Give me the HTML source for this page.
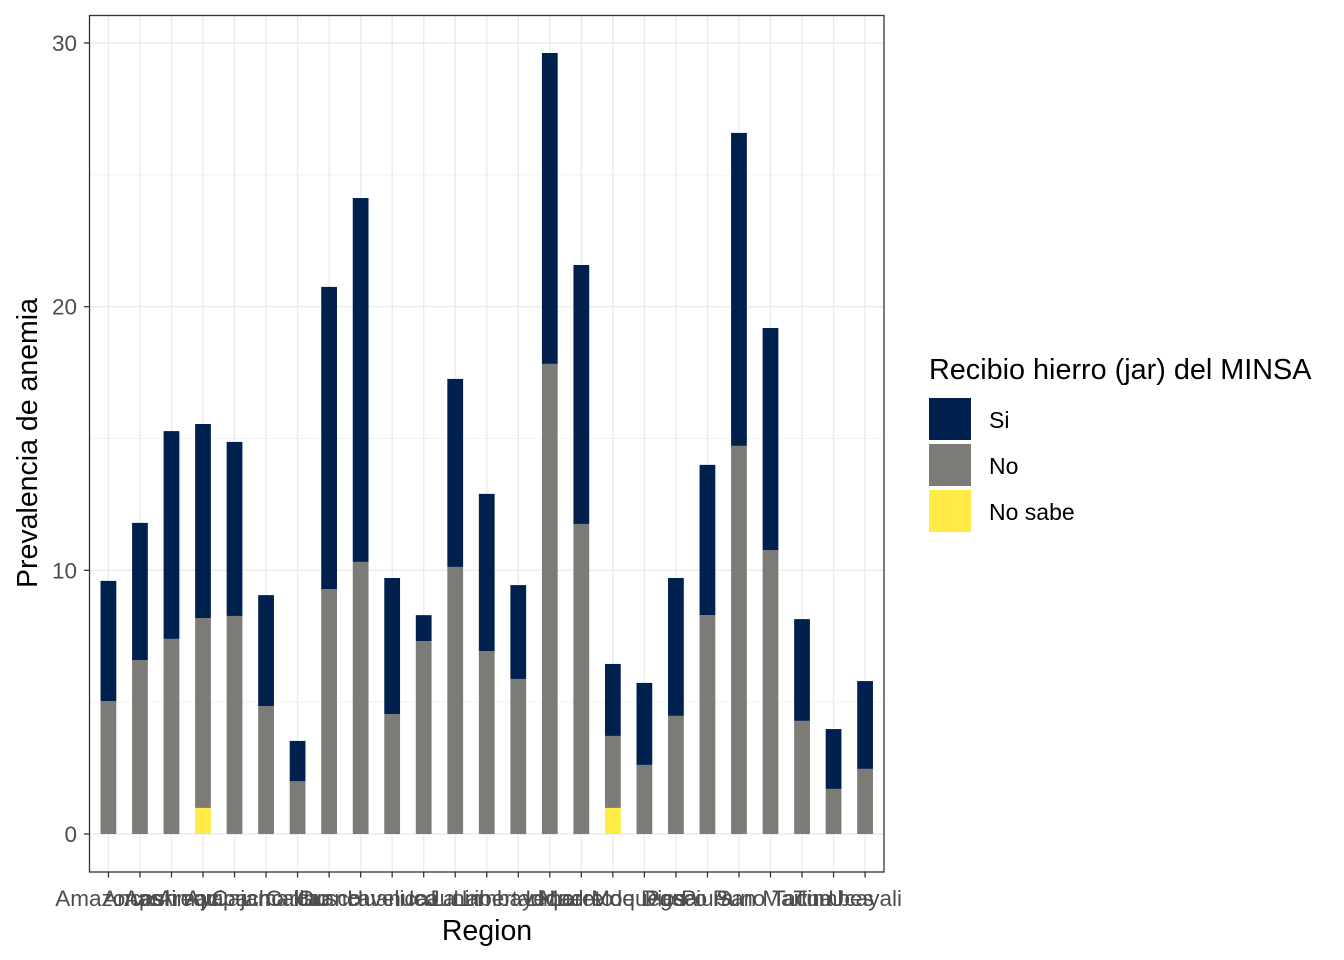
<!DOCTYPE html>
<html><head><meta charset="utf-8"><style>
body{margin:0;background:#fff;}
svg{display:block;font-family:"Liberation Sans",Arial,sans-serif;}
</style></head><body>
<svg id="chart" width="1344" height="960" xmlns="http://www.w3.org/2000/svg">
<rect width="1344" height="960" fill="#fff"/>
<g id="grid"></g>
<g id="bars"></g>
<rect x="89.5" y="15.5" width="794.5" height="856.5" fill="none" stroke="#333" stroke-width="1.3"/>
<g id="axes"></g>
<text x="487" y="940" font-size="28.5" text-anchor="middle" fill="#000">Region</text>
<text transform="translate(37,443) rotate(-90)" font-size="28.5" text-anchor="middle" fill="#000">Prevalencia de anemia</text>
<g>
<text x="929" y="379" font-size="28.8" fill="#000">Recibio hierro (jar) del MINSA</text>
<rect x="929" y="398" width="42" height="42" fill="#00204D"/>
<text x="989" y="428" font-size="23" fill="#000">Si</text>
<rect x="929" y="444" width="42" height="42" fill="#7C7B78"/>
<text x="989" y="474" font-size="23" fill="#000">No</text>
<rect x="929" y="490" width="42" height="42" fill="#FFEA46"/>
<text x="989" y="520" font-size="23" fill="#000">No sabe</text>
</g>
</svg>
<script>
const categories=["Amazonas","Ancash","Apurimac","Arequipa","Ayacucho","Cajamarca","Callao","Cusco","Huancavelica","Huanuco","Ica","Junin","La Libertad","Lambayeque","Lima","Loreto","Madre de Dios","Moquegua","Pasco","Piura","Puno","San Martin","Tacna","Tumbes","Ucayali"];
const noSabe=[0,0,0,0.99,0,0,0,0,0,0,0,0,0,0,0,0,0.99,0,0,0,0,0,0,0,0];
const no=[5.04,6.6,7.4,7.2,8.27,4.85,2.0,9.29,10.32,4.55,7.32,10.13,6.94,5.88,17.83,11.76,2.73,2.62,4.48,8.3,14.72,10.77,4.29,1.71,2.47];
const si=[4.56,5.2,7.88,7.36,6.6,4.21,1.53,11.46,13.8,5.16,0.98,7.13,5.96,3.56,11.79,9.82,2.73,3.11,5.23,5.7,11.87,8.42,3.86,2.27,3.33];
const yTicks=[0,10,20,30];
const yMinor=[5,15,25];
const NS="http://www.w3.org/2000/svg";
const px0=89.5,px1=884,py0=834,yScale=(834-43)/30;
const step=(px1-px0)/(categories.length+0.2);
const xS=i=>px0+step*(0.6+i);
const yS=v=>py0-v*yScale;
function mk(p,t,a){const e=document.createElementNS(NS,t);for(const k in a)e.setAttribute(k,a[k]);p.appendChild(e);return e;}
const grid=document.getElementById('grid'),bars=document.getElementById('bars'),axes=document.getElementById('axes');
yMinor.forEach(v=>{const l=mk(grid,'line',{x1:px0,x2:px1,y1:yS(v),y2:yS(v),stroke:'#f3f3f3','stroke-width':1});

});
yTicks.forEach(v=>{const l=mk(grid,'line',{x1:px0,x2:px1,y1:yS(v),y2:yS(v),stroke:'#ebebeb','stroke-width':1.4});


const t=mk(axes,'line',{x1:84,x2:89.5,y1:yS(v),y2:yS(v),stroke:'#333','stroke-width':1.3});


const tx=mk(axes,'text',{x:77,y:yS(v)+8,'font-size':22.5,'text-anchor':'end',fill:'#4d4d4d'});tx.textContent=v;

});
const bw=step*0.5;
categories.forEach((c,i)=>{const x=xS(i);
const g=mk(grid,'line',{x1:x,x2:x,y1:15.5,y2:872,stroke:'#ebebeb','stroke-width':1.4});


let base=0;
[[noSabe[i],'#FFEA46','bar-no-sabe'],[no[i],'#7C7B78','bar-no'],[si[i],'#00204D','bar-si']].forEach(([v,col,n])=>{
if(v>0){const r=mk(bars,'rect',{x:x-bw/2,y:yS(base+v),width:bw,height:v*yScale,fill:col});

}
base+=v;});
const t=mk(axes,'line',{x1:x,x2:x,y1:872,y2:877.5,stroke:'#333','stroke-width':1.3});


const tx=mk(axes,'text',{x:x,y:906,'font-size':22.5,'text-anchor':'middle',fill:'#4d4d4d'});tx.textContent=c;

});
</script>
</body></html>
